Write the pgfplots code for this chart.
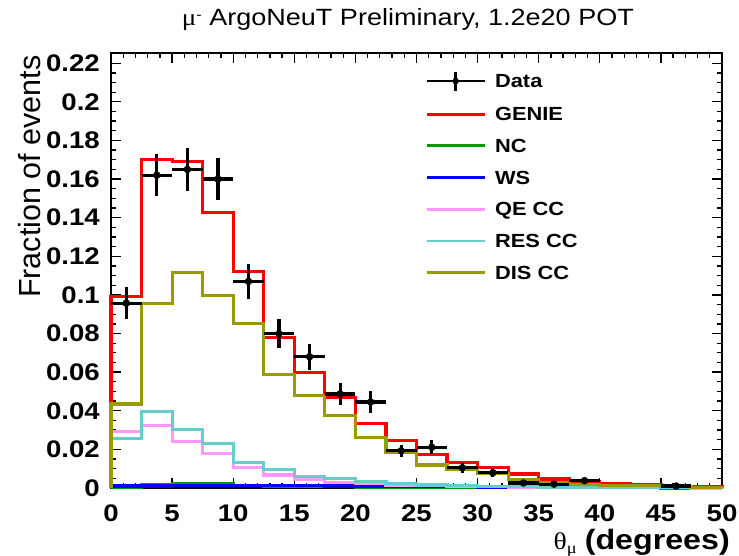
\documentclass[border=0pt]{standalone}
\usepackage{pgfplots}
\pgfplotsset{compat=1.18}
\usepackage{pgfplotstable}
\usepackage{fontspec}
\setmainfont{Liberation Sans}[FakeStretch=1.15]
\newfontfamily\ylabfont{Liberation Sans}
\newfontfamily\symfont{Liberation Serif}[FakeStretch=1.15]

\definecolor{cgenie}{RGB}{255,0,0}
\definecolor{cnc}{RGB}{0,153,0}
\definecolor{cws}{RGB}{0,0,255}
\definecolor{cqe}{RGB}{255,153,255}
\definecolor{cres}{RGB}{102,204,204}
\definecolor{cdis}{RGB}{153,153,0}

\pgfplotstableread{
x    genie  nc     ws     qe     res    dis
0    0      0      0      0      0      0
0    0.099  0.0005 0.0010 0.0292 0.0258 0.0435
2.5  0.170  0.0018 0.0010 0.0322 0.0397 0.0957
5    0.169  0.0022 0.0011 0.0240 0.0304 0.1117
7.5  0.1425 0.0024 0.0011 0.0180 0.0232 0.0997
10   0.112  0.0012 0.0015 0.0107 0.0133 0.0850
12.5 0.078  0.0010 0.0014 0.0067 0.0097 0.0589
15   0.060  0.0008 0.0012 0.0045 0.0058 0.0478
17.5 0.047  0.0006 0.0010 0.0028 0.0049 0.0375
20   0.0336 0.0005 0.0009 0.0022 0.0033 0.0260
22.5 0.0245 0.0004 0.0008 0.0015 0.0024 0.0183
25   0.0172 0.0003 0.0007 0.0011 0.0016 0.0119
27.5 0.0133 0.0003 0.0006 0.0008 0.0012 0.0097
30   0.0107 0.0002 0.0005 0.0006 0.0009 0.0076
32.5 0.0072 0.0002 0.0004 0.0004 0.0006 0.0045
35   0.0047 0.0001 0.0003 0.0003 0.0005 0.0030
37.5 0.0033 0.0001 0.0002 0.0002 0.0003 0.0019
40   0.0024 0.0001 0.0002 0.0002 0.0002 0.0014
42.5 0.0019 0.0001 0.0001 0.0001 0.0002 0.0011
45   0.0007 0      0.0001 0.0001 0.0001 0.0006
47.5 0.0005 0      0      0      0.0001 0.0004
50   0.0005 0      0      0      0.0001 0.0004
50   0      0      0      0      0      0
}\hist

\pgfplotstableread{
x     y      ex    ey
1.25  0.0957 1.25  0.0083
3.75  0.162  1.25  0.0110
6.25  0.165  1.25  0.0112
8.75  0.160  1.25  0.0110
11.25 0.107  1.25  0.0090
13.75 0.080  1.25  0.0075
16.25 0.068  1.25  0.0067
18.75 0.0487 1.25  0.0059
21.25 0.0445 1.25  0.0056
23.75 0.0193 1.25  0.0030
26.25 0.0211 1.25  0.0035
28.75 0.0105 1.25  0.0025
31.25 0.0079 1.25  0.0022
33.75 0.0026 1.25  0.0012
36.25 0.0020 1.25  0.0010
38.75 0.0038 1.25  0.0014
46.25 0.0010 1.25  0.0008
}\data

\pgfplotsset{
  histleg/.style={legend image code/.code={
    \path[draw=none,fill=none] (29pt,-9.5pt) -- (29pt,9.5pt);
    \draw[#1,line width=2.8pt] (0pt,0pt)--(58pt,0pt);}}
}

\begin{document}
\begin{tikzpicture}
\path[use as bounding box] (0pt,0pt) rectangle (739pt,556pt);
\begin{axis}[
  at={(111pt,68pt)}, anchor=south west,
  scale only axis, width=611pt, height=435pt,
  xmin=0, xmax=50, ymin=0, ymax=0.2253,
  clip=false,
  axis line style={line width=1.8pt, black},
  tick style={line width=1.3pt, black},
  tick align=inside, tick pos=both,
  major tick length=10pt, minor tick length=5pt,
  xtick={0,5,10,15,20,25,30,35,40,45,50},
  xticklabels={0,5,10,15,20,25,30,35,40,45,50},
  minor x tick num=4,
  ytick={0,0.02,0.04,0.06,0.08,0.1,0.12,0.14,0.16,0.18,0.2,0.22},
  yticklabels={0,0.02,0.04,0.06,0.08,0.1,0.12,0.14,0.16,0.18,0.2,0.22},
  minor y tick num=3,
  ticklabel style={font=\fontsize{24}{26}\selectfont\bfseries},
  xticklabel style={inner sep=0pt, anchor=north, yshift=-17pt},
  yticklabel style={inner sep=0pt, anchor=east, xshift=-11pt},
  title={{\symfont μ}\raisebox{0.55ex}{\fontsize{14}{14}\selectfont -} ArgoNeuT Preliminary, 1.2e20 POT},
  title style={font=\fontsize{23.5}{26}\selectfont, at={(axis description cs:0.486,1)}, anchor=base, yshift=21pt, inner sep=0pt},
  xlabel={{\symfont\fontsize{24}{26}\selectfont θ}\raisebox{-4pt}{\symfont\fontsize{16}{16}\selectfont μ}\hspace{8pt}\bfseries (degrees)},
  xlabel style={font=\fontsize{28}{30}\selectfont, at={(axis description cs:1.013,-0.1425)}, anchor=base east, inner sep=0pt},
  ylabel={Fraction of events},
  ylabel style={font=\ylabfont\fontsize{30.5}{32}\selectfont, at={(axis description cs:-0.1162,0.995)}, anchor=base east, inner sep=0pt},
  legend style={at={(axis description cs:0.514,0.961)}, anchor=north west, draw=none, fill=none, inner sep=0pt, row sep=12.7pt,
    font=\fontsize{19}{21}\selectfont\bfseries,
    nodes={inner sep=0pt, text height=13pt, text depth=0pt},
    /tikz/every odd column/.append style={column sep=9pt}},
  legend cell align=left,
]
\addlegendimage{legend image code/.code={
  \draw[black,line width=2.8pt] (0pt,0pt)--(58pt,0pt);
  \draw[black,line width=2.8pt] (29pt,-9.5pt)--(29pt,9.5pt);
  \fill[black] (29pt,0pt) circle (3pt);}}
\addlegendimage{histleg=cgenie}
\addlegendimage{histleg=cnc}
\addlegendimage{histleg=cws}
\addlegendimage{histleg=cqe}
\addlegendimage{histleg=cres}
\addlegendimage{histleg=cdis}
\legend{Data,GENIE,NC,WS,QE CC,RES CC,DIS CC}

\addplot[cgenie, line width=3.2pt, const plot, forget plot] table[x=x,y=genie]{\hist};
\addplot[cnc, line width=3.2pt, const plot, forget plot] table[x=x,y=nc]{\hist};
\addplot[cws, line width=3.2pt, const plot, forget plot] table[x=x,y=ws]{\hist};
\addplot[cqe, line width=3.2pt, const plot, forget plot] table[x=x,y=qe]{\hist};
\addplot[cres, line width=3.2pt, const plot, forget plot] table[x=x,y=res]{\hist};
\addplot[cdis, line width=3.2pt, const plot, forget plot] table[x=x,y=dis]{\hist};

\addplot[black, only marks, mark=*, mark size=3.5pt, forget plot,
  error bars/.cd, x dir=both, x explicit, y dir=both, y explicit,
  error mark=none, error bar style={line width=3.2pt, black}]
  table[x=x, y=y, x error=ex, y error=ey]{\data};
\end{axis}
\end{tikzpicture}
\end{document}
